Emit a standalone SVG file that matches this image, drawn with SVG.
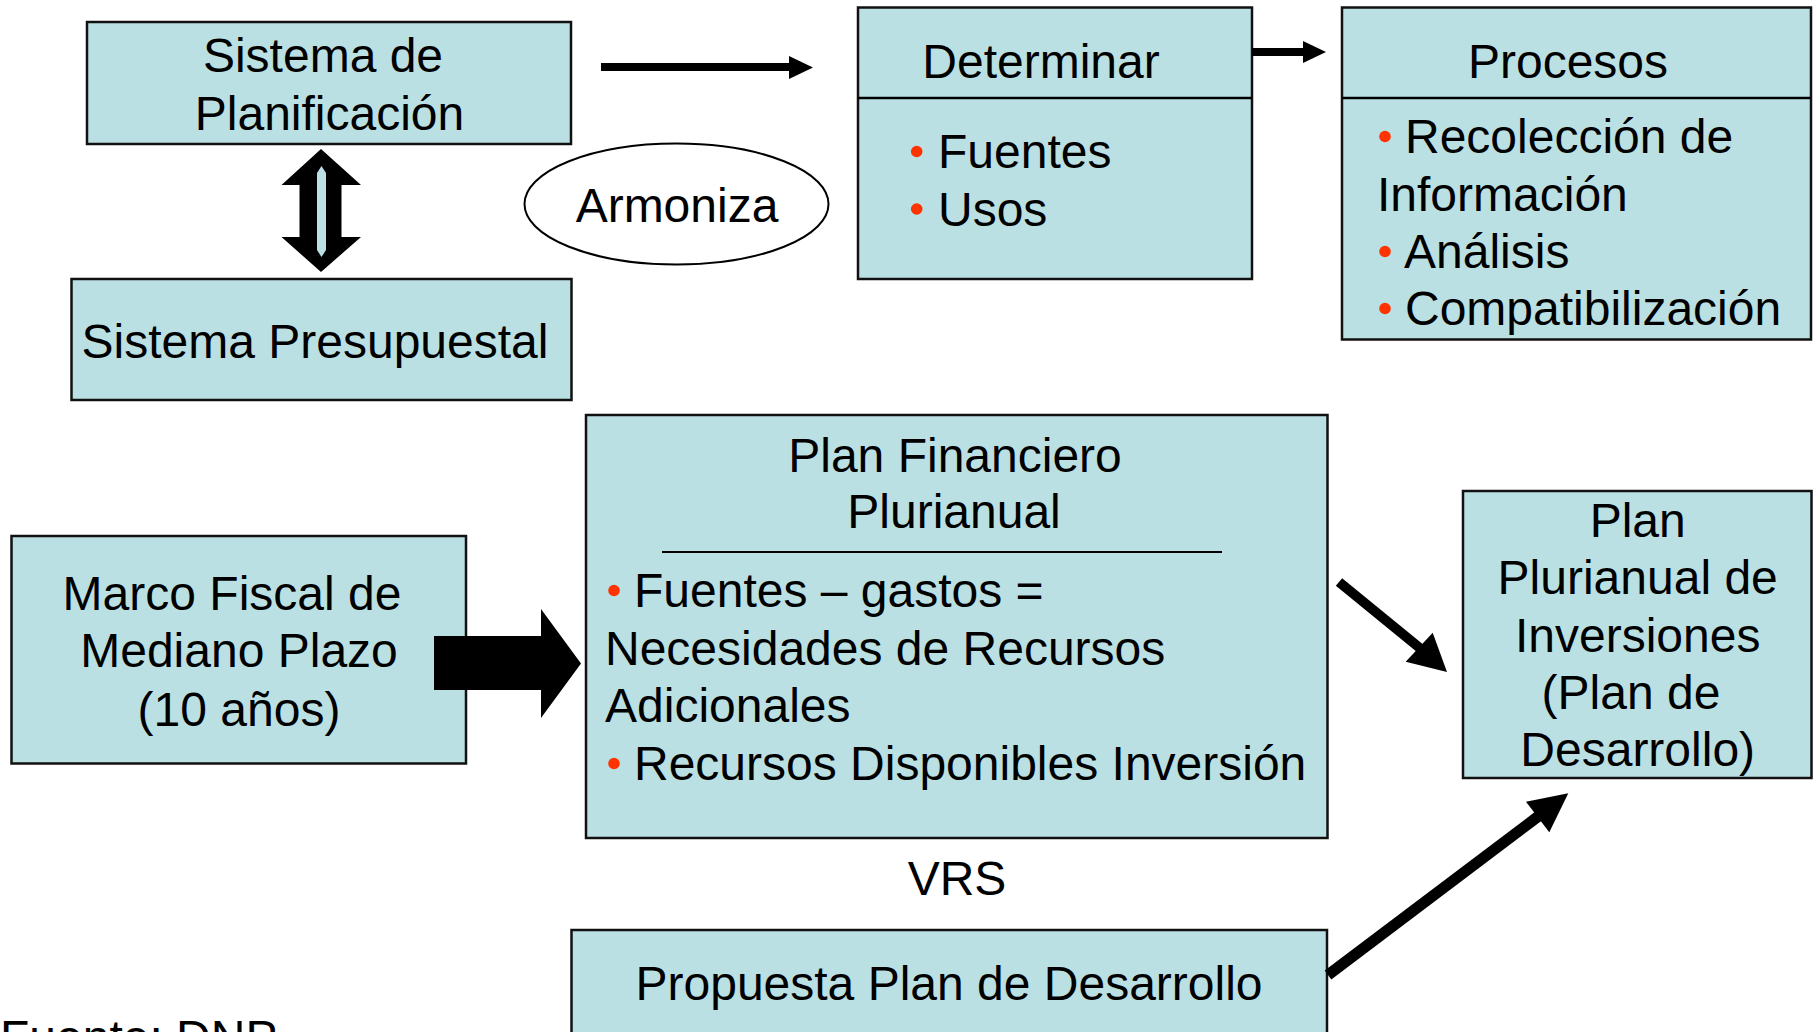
<svg xmlns="http://www.w3.org/2000/svg" width="1816" height="1032" viewBox="0 0 1816 1032">
<style>
.box{fill:#BBE0E3;stroke:#111;stroke-width:2.5}
.t{font-family:"Liberation Sans",Arial,sans-serif;font-size:48px;fill:#000}
.m{text-anchor:middle}
.b{fill:#FF3300}
.ln{stroke:#000;fill:none}
.ar{fill:#000}
</style>
<rect width="1816" height="1032" fill="#fff"/>
<g id="sistema-planificacion">
  <rect class="box" x="87" y="22" width="484" height="122"/>
  <text class="t m" x="323" y="72">Sistema de</text>
  <text class="t m" x="329.5" y="130">Planificación</text>
</g>
<g id="sistema-presupuestal">
  <rect class="box" x="71.5" y="279" width="500" height="121"/>
  <text class="t m" x="315" y="358">Sistema Presupuestal</text>
</g>
<g id="armoniza">
  <ellipse cx="676.5" cy="204" rx="152" ry="60.5" fill="#fff" stroke="#000" stroke-width="2"/>
  <text class="t m" x="677" y="222">Armoniza</text>
</g>
<g id="determinar">
  <rect class="box" x="858" y="7.5" width="394" height="271.5"/>
  <line class="ln" x1="858" y1="98" x2="1252" y2="98" stroke-width="2.5"/>
  <text class="t m" x="1041" y="78">Determinar</text>
  <circle class="b" cx="916.7" cy="151.5" r="5.8"/>
  <text class="t" x="938" y="168">Fuentes</text>
  <circle class="b" cx="916.7" cy="209" r="5.8"/>
  <text class="t" x="938" y="225.5">Usos</text>
</g>
<g id="procesos">
  <rect class="box" x="1342" y="7.5" width="469" height="332"/>
  <line class="ln" x1="1342" y1="98" x2="1811" y2="98" stroke-width="2.5"/>
  <text class="t m" x="1568" y="78">Procesos</text>
  <circle class="b" cx="1385" cy="136.5" r="5.8"/>
  <text class="t" x="1405" y="153">Recolección de</text>
  <text class="t" x="1377" y="211">Información</text>
  <circle class="b" cx="1385" cy="251.5" r="5.8"/>
  <text class="t" x="1404" y="268">Análisis</text>
  <circle class="b" cx="1385" cy="308.5" r="5.8"/>
  <text class="t" x="1405" y="325">Compatibilización</text>
</g>
<g id="marco-fiscal">
  <rect class="box" x="11.5" y="536" width="454.5" height="227.5"/>
  <text class="t m" x="232" y="610">Marco Fiscal de</text>
  <text class="t m" x="239" y="667">Mediano Plazo</text>
  <text class="t m" x="239" y="726">(10 años)</text>
</g>
<g id="plan-financiero">
  <rect class="box" x="586" y="415" width="741.5" height="423"/>
  <text class="t m" x="955" y="472">Plan Financiero</text>
  <text class="t m" x="954" y="528">Plurianual</text>
  <line class="ln" x1="662" y1="552" x2="1222" y2="552" stroke-width="2"/>
  <circle class="b" cx="614" cy="590.5" r="5.8"/>
  <text class="t" x="634" y="607">Fuentes – gastos =</text>
  <text class="t" x="605" y="665">Necesidades de Recursos</text>
  <text class="t" x="605" y="722">Adicionales</text>
  <circle class="b" cx="614" cy="763.5" r="5.8"/>
  <text class="t" x="634" y="780">Recursos Disponibles Inversión</text>
</g>
<g id="plan-plurianual">
  <rect class="box" x="1463" y="491" width="348.5" height="287"/>
  <text class="t m" x="1637.7" y="536.5">Plan</text>
  <text class="t m" x="1637.7" y="594">Plurianual de</text>
  <text class="t m" x="1637.7" y="651.5">Inversiones</text>
  <text class="t m" x="1631" y="709">(Plan de</text>
  <text class="t m" x="1637.7" y="765.5">Desarrollo)</text>
</g>
<g id="vrs">
  <text class="t m" x="957" y="895">VRS</text>
</g>
<g id="propuesta">
  <rect class="box" x="571.5" y="930" width="755.5" height="150"/>
  <text class="t m" x="949" y="1000">Propuesta Plan de Desarrollo</text>
</g>
<g id="fuente">
  <text class="t" x="0" y="1054">Fuente: DNP</text>
</g>
<g id="connectors">
  <line class="ln" x1="601" y1="67" x2="791" y2="67" stroke-width="8"/>
  <polygon class="ar" points="789,56 813,67.5 789,79"/>
  <line class="ln" x1="1252" y1="52" x2="1305" y2="52" stroke-width="8"/>
  <polygon class="ar" points="1303,41 1326,52 1303,63"/>
  <polygon class="ar" points="321,149 361,185 341.5,185 341.5,237 361,237 321,272 281.5,237 299.5,237 299.5,185 281.5,185"/>
  <polygon fill="#BBE0E3" points="321.5,166 326,173 326,250 321.5,257 317,250 317,173"/>
  <polygon class="ar" points="434,636 541,636 541,609 581,663.5 541,718 541,690 434,690"/>
  <line class="ln" x1="1339" y1="582" x2="1421" y2="649" stroke-width="10"/>
  <polygon class="ar" points="1447,672 1405.7,661.7 1432.7,632.7"/>
  <line class="ln" x1="1328" y1="975" x2="1540" y2="815" stroke-width="11"/>
  <polygon class="ar" points="1568.3,793.3 1526,801.7 1549.3,832.3"/>
</g>
</svg>
